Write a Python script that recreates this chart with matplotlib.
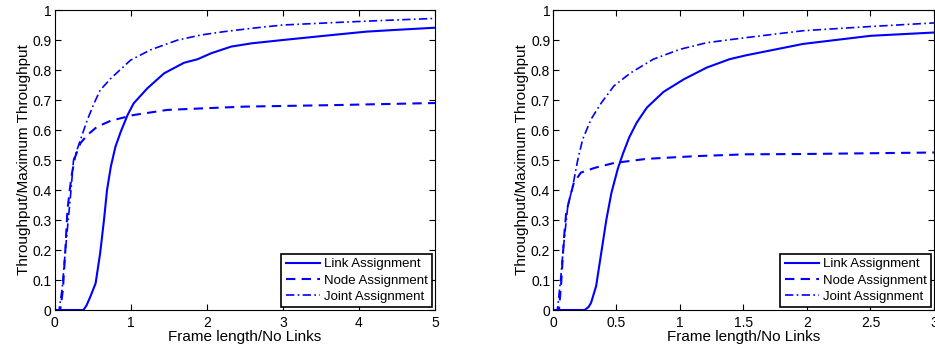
import matplotlib

matplotlib.use("Agg")
import matplotlib.pyplot as plt

plt.rcParams["font.family"] = ["Liberation Sans", "DejaVu Sans"]

_BLUE = "#0000ff"

# ── left panel (x: 0 .. 5) ───────────────────────────────────────────────────
left_link_x = [0, 0.38, 0.42, 0.47, 0.54, 0.60, 0.65, 0.69, 0.74, 0.80, 0.87, 0.96,
               1.04, 1.22, 1.44, 1.70, 1.88, 2.06, 2.32, 2.59, 3.0, 3.66, 4.1, 4.5, 5.0]
left_link_y = [0, 0, 0.015, 0.044, 0.089, 0.19, 0.30, 0.40, 0.478, 0.544, 0.594, 0.65,
               0.689, 0.739, 0.789, 0.824, 0.836, 0.856, 0.878, 0.889, 0.90, 0.917,
               0.928, 0.934, 0.941]
left_node_x = [0, 0.075, 0.11, 0.14, 0.17, 0.20, 0.23, 0.27, 0.34, 0.43, 0.56, 0.74,
               1.04, 1.48, 1.93, 2.5, 3.66, 5.0]
left_node_y = [0, 0, 0.067, 0.19, 0.333, 0.40, 0.456, 0.51, 0.556, 0.583, 0.611, 0.631,
               0.65, 0.667, 0.672, 0.678, 0.683, 0.69]
left_joint_x = [0, 0.06, 0.10, 0.14, 0.18, 0.21, 0.25, 0.34, 0.43, 0.52, 0.60, 0.74,
                1.0, 1.26, 1.62, 1.93, 2.23, 2.59, 3.0, 3.66, 4.3, 5.0]
left_joint_y = [0, 0, 0.07, 0.19, 0.30, 0.38, 0.50, 0.567, 0.633, 0.689, 0.733, 0.772,
                0.833, 0.867, 0.90, 0.917, 0.928, 0.939, 0.95, 0.958, 0.965, 0.972]

# ── right panel (x: 0 .. 3) ──────────────────────────────────────────────────
right_link_x = [0, 0.25, 0.28, 0.30, 0.34, 0.38, 0.42, 0.46, 0.51, 0.55, 0.60, 0.66,
                0.74, 0.87, 1.03, 1.21, 1.39, 1.52, 1.97, 2.5, 3.0]
right_link_y = [0, 0, 0.01, 0.024, 0.08, 0.19, 0.30, 0.39, 0.47, 0.52, 0.575, 0.625,
                0.675, 0.727, 0.769, 0.808, 0.836, 0.849, 0.887, 0.914, 0.925]
right_node_x = [0, 0.047, 0.065, 0.086, 0.104, 0.13, 0.164, 0.22, 0.33, 0.48, 0.74,
                1.13, 1.52, 1.97, 3.0]
right_node_y = [0, 0, 0.091, 0.236, 0.324, 0.369, 0.424, 0.458, 0.474, 0.49, 0.504,
                0.513, 0.519, 0.52, 0.525]
right_joint_x = [0, 0.035, 0.06, 0.078, 0.10, 0.117, 0.156, 0.195, 0.234, 0.30, 0.38,
                 0.48, 0.61, 0.79, 1.0, 1.21, 1.52, 1.97, 2.5, 3.0]
right_joint_y = [0, 0, 0.10, 0.19, 0.28, 0.347, 0.413, 0.50, 0.569, 0.636, 0.69,
                 0.747, 0.79, 0.836, 0.869, 0.891, 0.908, 0.931, 0.945, 0.957]

labels = ["Link Assignment", "Node Assignment", "Joint Assignment"]


def _panel(ax, link, node, joint, xmax, xticks):
    ax.plot(*link, color=_BLUE, linewidth=1.5, linestyle="-", label=labels[0])
    ax.plot(*node, color=_BLUE, linewidth=1.5, linestyle=(0, (4.5, 3)), label=labels[1])
    ax.plot(*joint, color=_BLUE, linewidth=1.2, linestyle=(0, (5, 2, 1, 2)), label=labels[2])
    ax.set_xlim(0, xmax)
    ax.set_ylim(0, 1)
    ax.set_xticks(xticks)
    ax.set_xticklabels([f"{t:g}" for t in xticks])
    ax.set_yticks([i / 10 for i in range(11)])
    ax.set_yticklabels(["0"] + [f"{i / 10:g}" for i in range(1, 10)] + ["1"])
    ax.tick_params(direction="in", top=True, right=True, labelsize=10, length=4)
    ax.tick_params(axis="x", pad=4)
    ax.tick_params(axis="y", pad=2)
    ax.set_xlabel("Frame length/No Links", fontsize=11, labelpad=0)
    ax.set_ylabel("Throughput/Maximum Throughput", fontsize=11, labelpad=1)
    leg = ax.legend(loc="lower right", fontsize=9.5, fancybox=False, framealpha=1,
                    edgecolor="black", borderaxespad=0.2, handlelength=2.6,
                    handletextpad=0.3, labelspacing=0.3, borderpad=0.35)
    leg.get_frame().set_linewidth(1.2)


fig = plt.figure(figsize=(9.35, 3.49), dpi=100)
ax1 = fig.add_axes([0.0583, 0.1117, 0.407, 0.8596])
ax2 = fig.add_axes([0.5914, 0.1117, 0.4075, 0.8596])
_panel(ax1, (left_link_x, left_link_y), (left_node_x, left_node_y),
       (left_joint_x, left_joint_y), 5, [0, 1, 2, 3, 4, 5])
_panel(ax2, (right_link_x, right_link_y), (right_node_x, right_node_y),
       (right_joint_x, right_joint_y), 3, [0, 0.5, 1, 1.5, 2, 2.5, 3])
fig.savefig("out.png", dpi=100)
plt.close(fig)
